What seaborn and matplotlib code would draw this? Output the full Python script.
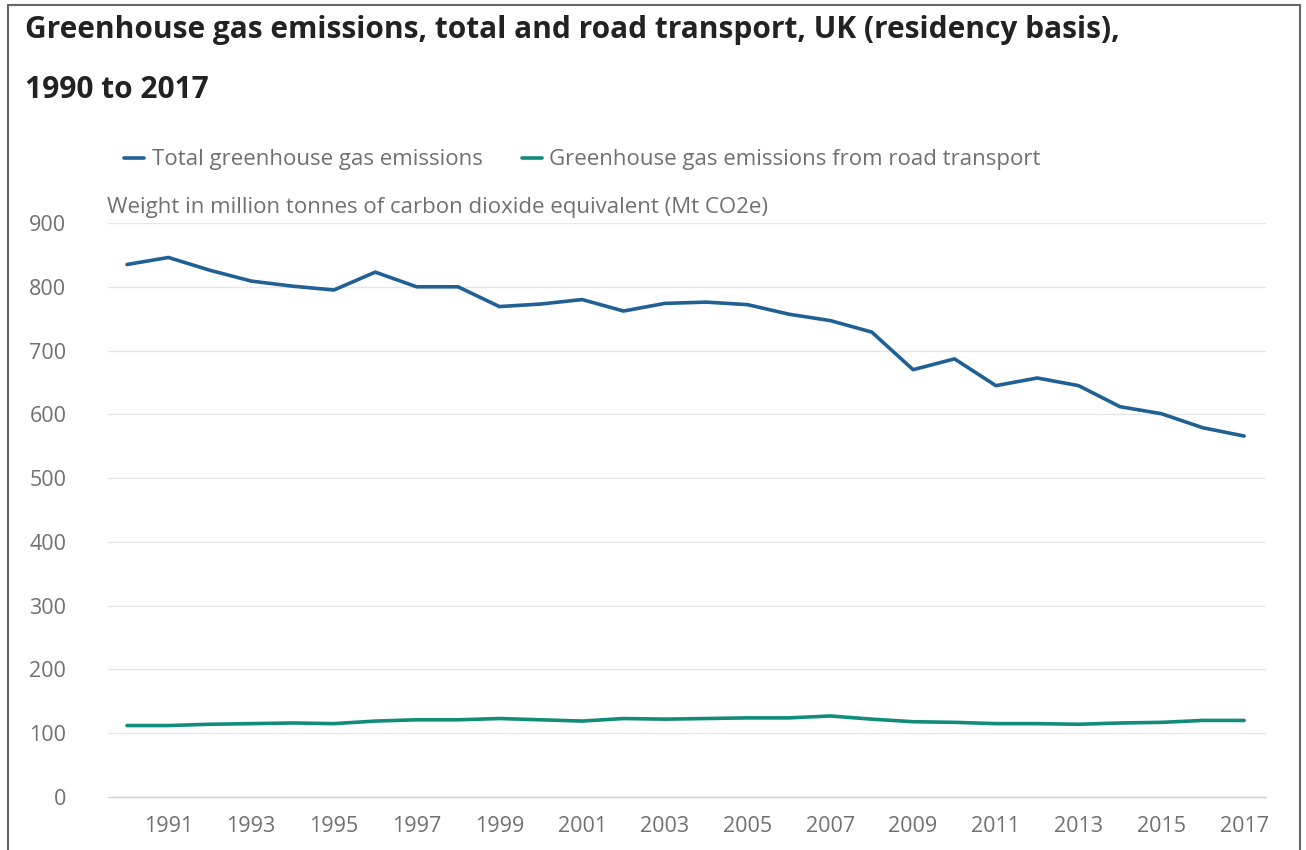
import pandas as pd
import seaborn as sns
import matplotlib.pyplot as plt
from matplotlib.patches import Rectangle
from matplotlib.lines import Line2D

# Values (Mt CO2e)
years = list(range(1990, 2018))
total_ghg = [835, 846, 826, 809, 801, 795, 823, 800, 800, 769, 773, 780, 762, 774,
             776, 772, 757, 747, 729, 670, 687, 645, 657, 645, 612, 601, 579, 566]
road_ghg = [112, 112, 114, 115, 116, 115, 119, 121, 121, 123, 121, 119, 123, 122,
            123, 124, 124, 127, 122, 118, 117, 115, 115, 114, 116, 117, 120, 120]

series_names = ["Total greenhouse gas emissions",
                "Greenhouse gas emissions from road transport"]
colours = ["#206095", "#118c7b"]
y_ticks = [0, 100, 200, 300, 400, 500, 600, 700, 800, 900]
x_ticks = list(range(1991, 2018, 2))

df = pd.DataFrame({
    "year": years * 2,
    "value": total_ghg + road_ghg,
    "series": [series_names[0]] * len(years) + [series_names[1]] * len(years),
})

sns.set_theme(style="white")
plt.rcParams['font.family'] = ['Open Sans', 'DejaVu Sans']

fig = plt.figure(figsize=(13.06, 8.5), dpi=100)
ax = fig.add_axes([0.0827, 0.0624, 0.8867, 0.6752])

sns.lineplot(data=df, x="year", y="value", hue="series", palette=colours,
             linewidth=2.6, ax=ax, legend=False)

ax.set_xlim(1989.54, 2017.53)
ax.set_ylim(0, 900)
ax.set_yticks(y_ticks)
ax.set_xticks(x_ticks)
ax.set_xticklabels([str(y) for y in x_ticks])
ax.grid(axis="y", color="#e6e6e6", linewidth=1)
ax.set_axisbelow(True)
for s in ["top", "right", "left"]:
    ax.spines[s].set_visible(False)
ax.spines["bottom"].set_color("#d0d0d0")
ax.spines["bottom"].set_linewidth(1)
ax.tick_params(axis="x", length=10, width=1, color="#d0d0d0", colors="#707070",
               labelsize=15.5, pad=4)
ax.tick_params(axis="y", length=0, colors="#707070", labelsize=15.5, pad=30)
for lab in ax.get_xticklabels() + ax.get_yticklabels():
    lab.set_color("#707070")
ax.set_xlabel("")
ax.set_ylabel("")

# Title, legend and axis caption
fig.text(25 / 1306, 1 - 30 / 850, "Greenhouse gas emissions, total and road transport, UK (residency basis),",
         fontsize=21.5, fontweight="bold", color="#222222", va="center", ha="left")
fig.text(25 / 1306, 1 - 90 / 850, "1990 to 2017",
         fontsize=21.5, fontweight="bold", color="#222222", va="center", ha="left")

handles = [Line2D([0], [0], color=c, linewidth=2.6) for c in colours]
fig.legend(handles, series_names, loc="center left",
           bbox_to_anchor=(104 / 1306, 1 - 160 / 850), ncol=2, frameon=False,
           fontsize=16, handlelength=0.9, handletextpad=0.35, columnspacing=1.75,
           labelcolor="#707070")

fig.text(107 / 1306, 1 - 208 / 850,
         "Weight in million tonnes of carbon dioxide equivalent (Mt CO2e)",
         fontsize=16, color="#707070", va="center", ha="left")

# Outer frame
fig.patches.append(Rectangle((8 / 1306, -0.05), 1292 / 1306, 1.05 - 5 / 850,
                             transform=fig.transFigure, fill=False,
                             edgecolor="#666666", linewidth=1.5))

fig.savefig("out.png", dpi=100, facecolor="white")
